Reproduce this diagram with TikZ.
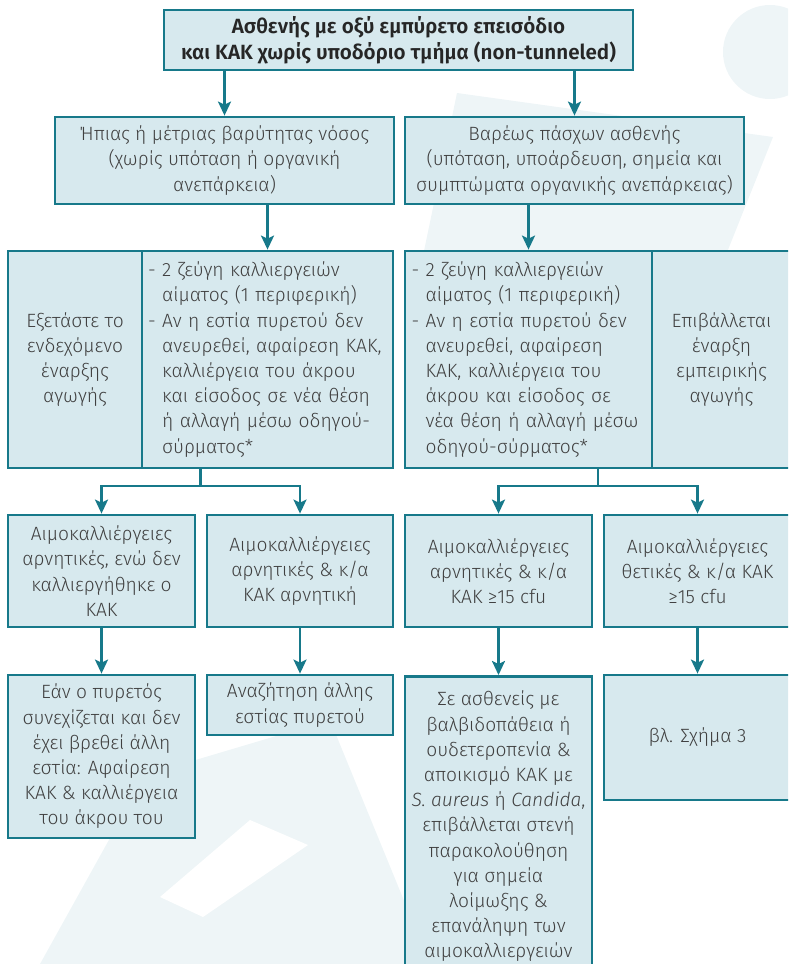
\documentclass[tikz,border=0pt]{standalone}
\usepackage{fontspec}
\setmainfont{Fira Sans}[UprightFont={* Light},ItalicFont={* Light Italic}]
\usetikzlibrary{arrows.meta}
\definecolor{kakteal}{HTML}{17798A}
\definecolor{kakfill}{HTML}{D7E9EE}
\definecolor{kaktext}{HTML}{404040}
\definecolor{kakmark}{HTML}{EEF5F7}
\newcommand{\kakind}{\phantom{- }}

\begin{document}
\begin{tikzpicture}[x=0.5pt,y=-0.5pt,
    box/.style={draw=kakteal,fill=kakfill,line width=1.4pt,align=center,inner sep=0pt,
      text=kaktext,font=\fontsize{9.6}{12.6}\selectfont},
    arr/.style={draw=kakteal,line width=1.2pt,-{Stealth[width=6.5pt,length=7pt,inset=1.5pt]}},
    lin/.style={draw=kakteal,line width=1.2pt}]

  \useasboundingbox (0,0) rectangle (788,964);
  \clip (0,0) rectangle (788,964);

  % watermark
  \fill[kakmark] (770,52) circle[radius=47];
  \fill[kakmark] (457,93) -- (773,137) -- (700,320) -- (420,270) -- cycle;
  \fill[kakmark] (40,964) -- (145,775) -- (330,720) -- (430,964) -- cycle;
  \fill[white] (160,897) -- (250,820) -- (308,845) -- (203,917) -- cycle;

  % top level
  \node[box,font=\fontsize{10.3}{12.8}\selectfont\bfseries,text=black!85,
    minimum width=234.5pt,minimum height=30pt] (top) at (398.5,40)
    {Ασθενής με οξύ εμπύρετο επεισόδιο\\ και ΚΑΚ χωρίς υποδόριο τμήμα (non-tunneled)};

  \node[box,minimum width=169.5pt,minimum height=43.5pt] (mild) at (224.5,160.5)
    {Ήπιας ή μέτριας βαρύτητας νόσος\\ (χωρίς υπόταση ή οργανική\\ ανεπάρκεια)};
  \node[box,minimum width=169.5pt,minimum height=43.5pt] (severe) at (574.5,160.5)
    {Βαρέως πάσχων ασθενής\\ (υπόταση, υποάρδευση, σημεία και\\ συμπτώματα οργανικής ανεπάρκειας)};

  % second level
  \node[box,minimum width=67pt,minimum height=108.5pt] (consider) at (75,359.5)
    {Εξετάστε το\\ ενδεχόμενο\\ έναρξης\\ αγωγής};
  \node[box,align=left,text width=119.5pt,minimum width=125.5pt,minimum height=108.5pt] (cultL) at (267.5,359.5)
    {- 2 ζεύγη καλλιεργειών\\ \kakind αίματος (1 περιφερική)\\
     - Αν η εστία πυρετού δεν\\ \kakind ανευρεθεί, αφαίρεση ΚΑΚ,\\
     \kakind καλλιέργεια του άκρου\\ \kakind και είσοδος σε νέα θέση\\
     \kakind ή αλλαγή μέσω οδηγού-\\ \kakind σύρματος*};
  \node[box,align=left,text width=117pt,minimum width=123.5pt,minimum height=108.5pt] (cultR) at (528.5,359.5)
    {- 2 ζεύγη καλλιεργειών\\ \kakind αίματος (1 περιφερική)\\
     - Αν η εστία πυρετού δεν\\ \kakind ανευρεθεί, αφαίρεση\\
     \kakind ΚΑΚ, καλλιέργεια του\\ \kakind άκρου και είσοδος σε\\
     \kakind νέα θέση ή αλλαγή μέσω\\ \kakind οδηγού-σύρματος*};
  \node[box,minimum width=69.5pt,minimum height=108.5pt] (empiric) at (721.5,359.5)
    {Επιβάλλεται\\ έναρξη\\ εμπειρικής\\ αγωγής};

  % results
  \node[box,minimum width=93.5pt,minimum height=56pt] (negnc) at (101.5,571)
    {Αιμοκαλλιέργειες\\ αρνητικές, ενώ δεν\\ καλλιεργήθηκε ο\\ ΚΑΚ};
  \node[box,minimum width=93pt,minimum height=56pt] (negneg) at (300,571)
    {Αιμοκαλλιέργειες\\ αρνητικές \& κ/α\\ ΚΑΚ αρνητική};
  \node[box,minimum width=93.5pt,minimum height=56pt] (negpos) at (498.5,571)
    {Αιμοκαλλιέργειες\\ αρνητικές \& κ/α\\ ΚΑΚ ≥15 cfu};
  \node[box,minimum width=93.5pt,minimum height=56pt] (pospos) at (697.5,571)
    {Αιμοκαλλιέργειες\\ θετικές \& κ/α ΚΑΚ\\ ≥15 cfu};

  % actions
  \node[box,minimum width=93.5pt,minimum height=81.5pt] (remove) at (101.5,756.5)
    {Εάν ο πυρετός\\ συνεχίζεται και δεν\\ έχει βρεθεί άλλη\\ εστία: Αφαίρεση\\ ΚΑΚ \& καλλιέργεια\\ του άκρου του};
  \node[box,minimum width=93pt,minimum height=30pt] (search) at (300,705)
    {Αναζήτηση άλλης\\ εστίας πυρετού};
  \node[box,anchor=north,inner ysep=4pt,minimum width=93.5pt,minimum height=150pt] (watch) at (498.5,675)
    {Σε ασθενείς με\\ βαλβιδοπάθεια ή\\ ουδετεροπενία \&\\ αποικισμό ΚΑΚ με\\
     \textit{S. aureus} ή \textit{Candida},\\ επιβάλλεται στενή\\ παρακολούθηση\\
     για σημεία\\ λοίμωξης \&\\ επανάληψη των\\ αιμοκαλλιεργειών};
  \node[box,minimum width=93.5pt,minimum height=62.5pt] (fig3) at (697.5,737.5)
    {βλ. Σχήμα 3};

  % connectors
  \draw[arr] (top.south -| mild) -- (mild);
  \draw[arr] (top.south -| severe) -- (severe);
  \draw[arr] (mild.south -| cultL) -- (cultL);
  \draw[arr] (severe.south -| cultR) -- (cultR);

  \coordinate (lbot) at (200.5,468);
  \coordinate (lfork) at (200.5,486);
  \coordinate (rbot) at (598,468);
  \coordinate (rfork) at (598,486);
  \draw[lin] (lbot) -- (lfork);
  \draw[lin] (rbot) -- (rfork);
  \draw[arr] (lfork) -| (negnc);
  \draw[arr] (lfork) -| (negneg);
  \draw[arr] (rfork) -| (negpos);
  \draw[arr] (rfork) -| (pospos);

  \draw[arr] (negnc) -- (remove);
  \draw[arr] (negneg) -- (search);
  \draw[arr] (negpos) -- (watch);
  \draw[arr] (pospos) -- (fig3);

\end{tikzpicture}
\end{document}
